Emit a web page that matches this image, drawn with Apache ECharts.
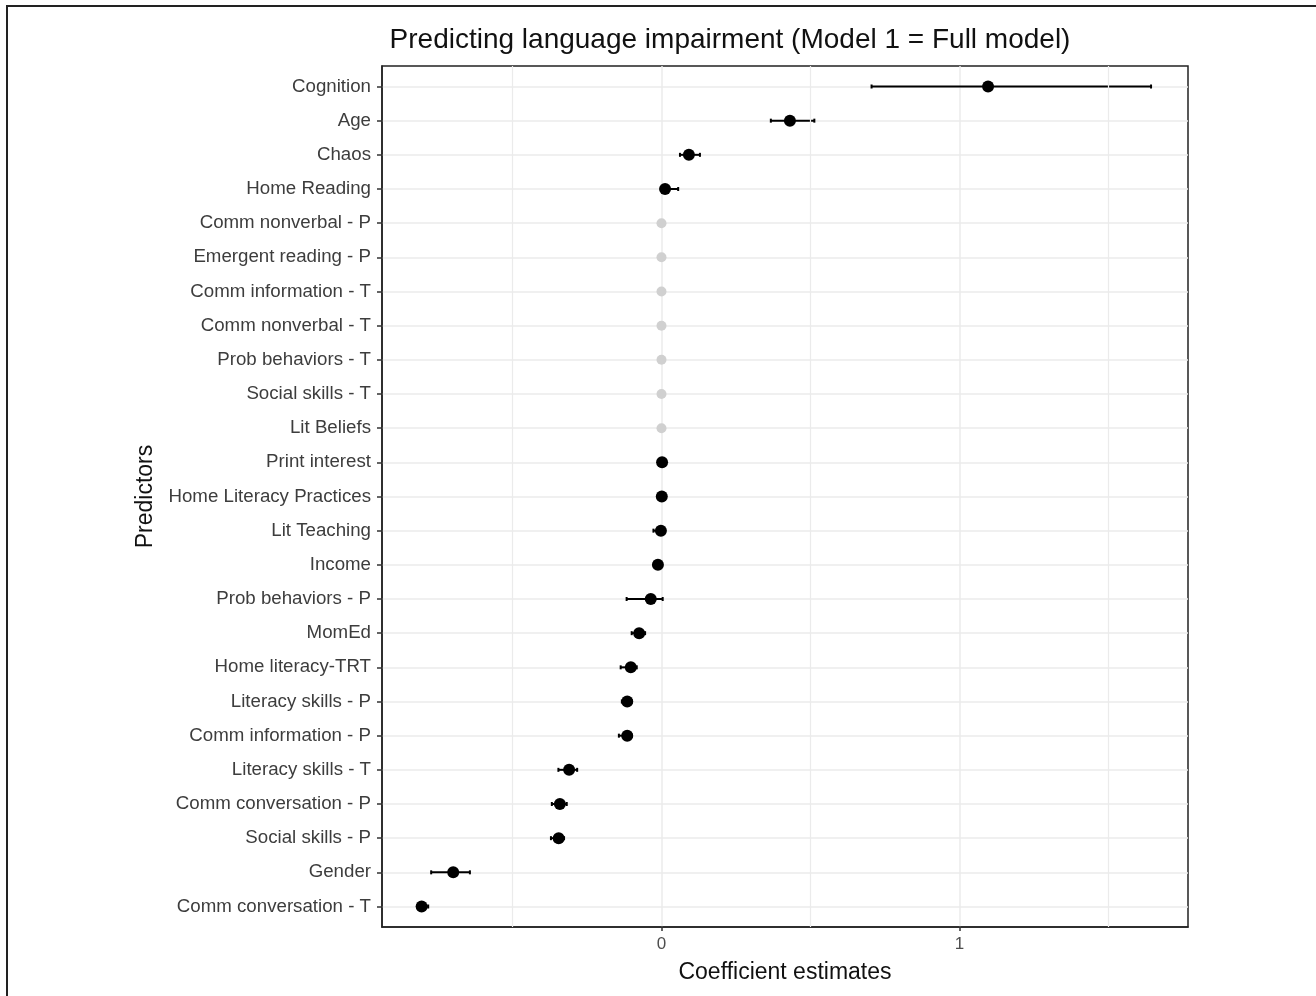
<!DOCTYPE html>
<html>
<head>
<meta charset="utf-8">
<script src="https://cdn.jsdelivr.net/npm/echarts@6/dist/echarts.min.js"></script>
<style>
  html, body { margin: 0; padding: 0; background: #fff; }
  #chart { width: 1316px; height: 996px; }
</style>
</head>
<body>
<div id="chart"></div>
<script>
// Predictor names, top to bottom
const predictors = [
  'Cognition', 'Age', 'Chaos', 'Home Reading', 'Comm nonverbal - P',
  'Emergent reading - P', 'Comm information - T', 'Comm nonverbal - T',
  'Prob behaviors - T', 'Social skills - T', 'Lit Beliefs', 'Print interest',
  'Home Literacy Practices', 'Lit Teaching', 'Income', 'Prob behaviors - P',
  'MomEd', 'Home literacy-TRT', 'Literacy skills - P', 'Comm information - P',
  'Literacy skills - T', 'Comm conversation - P', 'Social skills - P',
  'Gender', 'Comm conversation - T'
];
// Coefficient estimates
const estimates = [
  1.096, 0.431, 0.092, 0.012, 0, 0, 0, 0, 0, 0, 0, 0.002,
  0.001, -0.002, -0.012, -0.036, -0.075, -0.103, -0.115, -0.115,
  -0.310, -0.341, -0.345, -0.699, -0.805
];
// Interval bounds
const lower = [
  0.705, 0.367, 0.062, 0.000, 0, 0, 0, 0, 0, 0, 0, 0.000,
  0.000, -0.027, -0.020, -0.117, -0.100, -0.137, -0.133, -0.143,
  -0.346, -0.368, -0.371, -0.773, -0.816
];
const upper = [
  1.643, 0.513, 0.129, 0.056, 0, 0, 0, 0, 0, 0, 0, 0.006,
  0.005, 0.005, -0.005, 0.004, -0.055, -0.083, -0.099, -0.099,
  -0.283, -0.318, -0.327, -0.643, -0.783
];
// 1 = retained in the model, 0 = shrunk to zero (drawn grey)
const retained = [
  1, 1, 1, 1, 0, 0, 0, 0, 0, 0, 0, 1,
  1, 1, 1, 1, 1, 1, 1, 1, 1, 1, 1, 1, 1
];
// Axis tick values
const xTicks = [0, 1];
const xMinorGrid = [-0.5, 0.5, 1.5];

const rowIdx = predictors.map((_, i) => i);
const keptPts = [], droppedPts = [], bars = [];
predictors.forEach((p, i) => {
  if (retained[i]) keptPts.push([estimates[i], i]);
  else droppedPts.push([estimates[i], i]);
  if (upper[i] - lower[i] > 0) bars.push([lower[i], upper[i], i]);
});

const FONT = '"Liberation Sans", Arial, sans-serif';
const GRID_COL = '#ebebeb';

const chart = echarts.init(document.getElementById('chart'), null, { renderer: 'canvas' });
chart.setOption({
  backgroundColor: '#fff',
  animation: false,
  title: {
    text: 'Predicting language impairment (Model 1 = Full model)',
    left: 725, top: 21, textAlign: 'center',
    textStyle: { fontFamily: FONT, fontSize: 28, fontWeight: 'normal', color: '#111' }
  },
  graphic: [{
    type: 'rect', silent: true, z: 100,
    shape: { x: 7, y: 6, width: 1320, height: 1000 },
    style: { fill: 'none', stroke: '#222', lineWidth: 2 }
  }],
  grid: {
    left: 382, right: 128, top: 66, bottom: 69,
    show: true, borderColor: '#222', borderWidth: 1.5, backgroundColor: '#fff'
  },
  xAxis: {
    type: 'value', min: -0.938, max: 1.767,
    name: 'Coefficient estimates', nameLocation: 'middle', nameGap: 34,
    nameTextStyle: { fontFamily: FONT, fontSize: 23, color: '#111' },
    axisLine: { show: true, onZero: false, lineStyle: { color: '#222', width: 1.5 } },
    axisTick: { show: true, customValues: xTicks, length: 4, lineStyle: { color: '#333', width: 1.5 } },
    axisLabel: { customValues: xTicks, margin: 9, fontFamily: FONT, fontSize: 17, color: '#4d4d4d' },
    splitLine: { show: true, lineStyle: { color: GRID_COL, width: 1.5 } }
  },
  yAxis: {
    type: 'value', inverse: true, min: -0.6, max: predictors.length - 0.4,
    name: 'Predictors', nameLocation: 'middle', nameGap: 222, nameRotate: 90,
    nameTextStyle: { fontFamily: FONT, fontSize: 23, color: '#111' },
    axisLine: { show: true, onZero: false, lineStyle: { color: '#222', width: 1.5 } },
    axisTick: { show: true, customValues: rowIdx, length: 5, lineStyle: { color: '#333', width: 1.5 } },
    axisLabel: {
      customValues: rowIdx, margin: 11, fontFamily: FONT, fontSize: 18.7, color: '#3d3d3d',
      padding: [3, 0, 0, 0],
      formatter: v => predictors[Math.round(v)] || ''
    },
    splitLine: { show: true, lineStyle: { color: GRID_COL, width: 1.5 } }
  },
  series: [
    {
      // minor vertical gridlines between the labelled ticks
      type: 'line', data: [], z: 1,
      markLine: {
        silent: true, symbol: 'none', label: { show: false },
        lineStyle: { color: GRID_COL, width: 1.2, type: 'solid' },
        data: xMinorGrid.map(v => ({ xAxis: v }))
      }
    },
    {
      type: 'custom', z: 3,
      renderItem: (params, api) => {
        const a = api.coord([api.value(0), api.value(2)]);
        const b = api.coord([api.value(1), api.value(2)]);
        const st = { stroke: '#000', lineWidth: 2 };
        return {
          type: 'group',
          children: [
            { type: 'line', shape: { x1: a[0], y1: a[1], x2: b[0], y2: b[1] }, style: st },
            { type: 'line', shape: { x1: a[0], y1: a[1] - 2, x2: a[0], y2: a[1] + 2 }, style: st },
            { type: 'line', shape: { x1: b[0], y1: b[1] - 2, x2: b[0], y2: b[1] + 2 }, style: st }
          ]
        };
      },
      data: bars
    },
    {
      type: 'scatter', z: 4, symbol: 'circle', symbolSize: 12,
      itemStyle: { color: '#000', opacity: 1 },
      data: keptPts
    },
    {
      type: 'scatter', z: 4, symbol: 'circle', symbolSize: 10,
      itemStyle: { color: '#d0d0d0', opacity: 1 },
      data: droppedPts
    }
  ]
});
</script>
</body>
</html>
